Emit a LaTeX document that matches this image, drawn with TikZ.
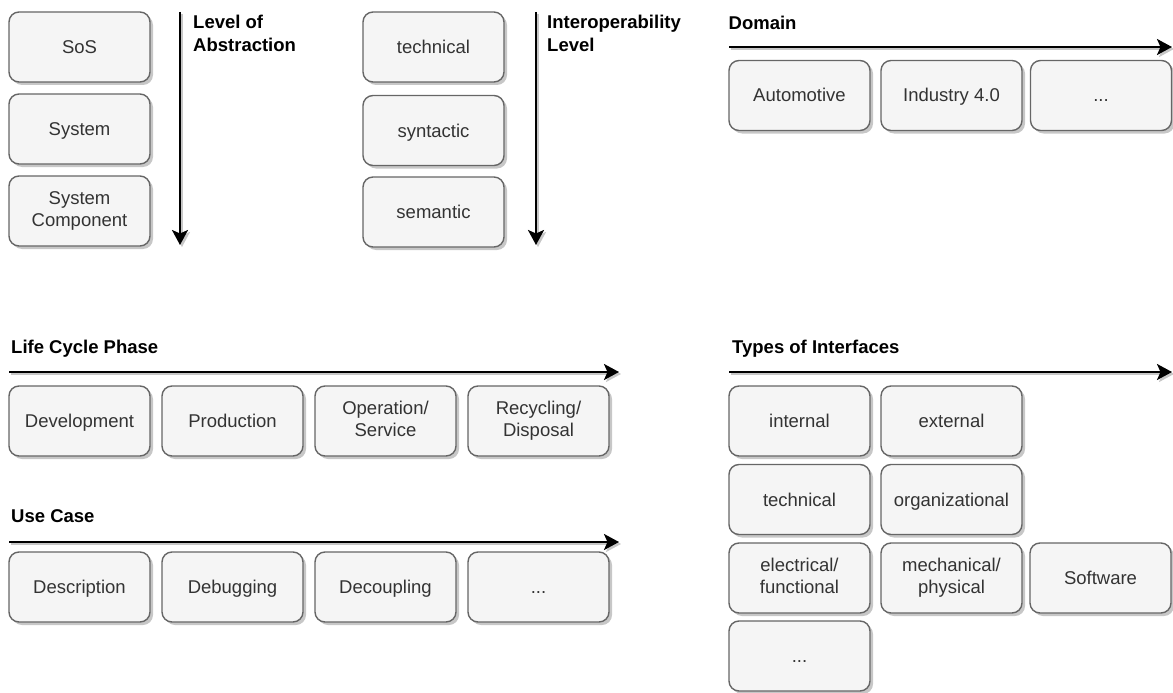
\documentclass[tikz,border=0pt]{standalone}
\usepackage{fontspec}
\setmainfont{Liberation Sans}
\usetikzlibrary{arrows.meta,shadows}
\definecolor{boxfill}{HTML}{F5F5F5}
\definecolor{boxline}{HTML}{666666}
\definecolor{boxtext}{HTML}{333333}
% line strut (depth 4pt, height 17pt) giving every line of box text the same extent
\newcommand{\ls}{\rule[-4pt]{0pt}{21pt}}
\tikzset{
  box/.style={draw=boxline, fill=boxfill, text=boxtext, line width=1.4pt,
    rounded corners=10pt, minimum width=141pt, minimum height=70pt,
    align=center, inner sep=2pt, font=\fontsize{18.5}{22.5}\selectfont,
    execute at begin node=\ls,
    drop shadow={shadow xshift=3pt, shadow yshift=-3pt, fill=black, opacity=0.22}},
  heading/.style={font=\fontsize{18.5}{23.4}\selectfont\bfseries, align=left,
    inner sep=0pt, anchor=base west},
  headingtwo/.style={heading, anchor=north west},
  axis/.style={line width=2.4pt, -{Stealth[length=15pt,width=16pt,inset=3.5pt]},
    preaction={draw=black!22, line width=2.4pt,
      transform canvas={xshift=2pt, yshift=-2pt}}}
}
\begin{document}
\begin{tikzpicture}[x=1pt, y=-1pt]
\useasboundingbox (0,0) rectangle (1173,693);

% Level of abstraction
\node[box] (abs1) at (79.5,47) {SoS};
\node[box] (abs2) at (79.5,129) {System};
\node[box] (abs3) at (79.5,211) {System\\\ls Component};
\coordinate (absA) at (180,12);
\coordinate (absB) at (180,245);
\draw[axis] (absA) -- (absB);
\node[headingtwo] (absT) at (193,14.5) {Level of\\Abstraction};

% Interoperability level
\node[box] (iop1) at (433.5,47) {technical};
\node[box] (iop2) at (433.5,130.5) {syntactic};
\node[box] (iop3) at (433.5,212) {semantic};
\coordinate (iopA) at (536,12);
\coordinate (iopB) at (536,245);
\draw[axis] (iopA) -- (iopB);
\node[headingtwo] (iopT) at (547,14.5) {Interoperability\\Level};

% Domain
\node[heading] (domT) at (728.5,29.5) {Domain};
\coordinate (domA) at (729,47);
\coordinate (domB) at (1172,47);
\draw[axis] (domA) -- (domB);
\node[box] (dom1) at (799.5,95.5) {Automotive};
\node[box] (dom2) at (951.5,95.5) {Industry 4.0};
\node[box] (dom3) at (1101,95.5) {...};

% Life cycle phase
\node[heading] (lcT) at (11,353) {Life Cycle Phase};
\coordinate (lcA) at (9,372);
\coordinate (lcB) at (619,372);
\draw[axis] (lcA) -- (lcB);
\node[box] (lc1) at (79.5,421) {Development};
\node[box] (lc2) at (232.5,421) {Production};
\node[box] (lc3) at (385.5,421) {Operation/\\\ls Service};
\node[box] (lc4) at (538.5,421) {Recycling/\\\ls Disposal};

% Use case
\node[heading] (ucT) at (11,522.5) {Use Case};
\coordinate (ucA) at (9,542);
\coordinate (ucB) at (619,542);
\draw[axis] (ucA) -- (ucB);
\node[box] (uc1) at (79.5,587) {Description};
\node[box] (uc2) at (232.5,587) {Debugging};
\node[box] (uc3) at (385.5,587) {Decoupling};
\node[box] (uc4) at (538.5,587) {...};

% Types of interfaces
\node[heading] (ifT) at (732,353) {Types of Interfaces};
\coordinate (ifA) at (729,372);
\coordinate (ifB) at (1172,372);
\draw[axis] (ifA) -- (ifB);
\node[box] (if1) at (799.5,421) {internal};
\node[box] (if2) at (951.5,421) {external};
\node[box] (if3) at (799.5,499.5) {technical};
\node[box] (if4) at (951.5,499.5) {organizational};
\node[box] (if5) at (799.5,578) {electrical/\\\ls functional};
\node[box] (if6) at (951.5,578) {mechanical/\\\ls physical};
\node[box] (if7) at (1100.5,578) {Software};
\node[box] (if8) at (799.5,656) {...};
\end{tikzpicture}
\end{document}
